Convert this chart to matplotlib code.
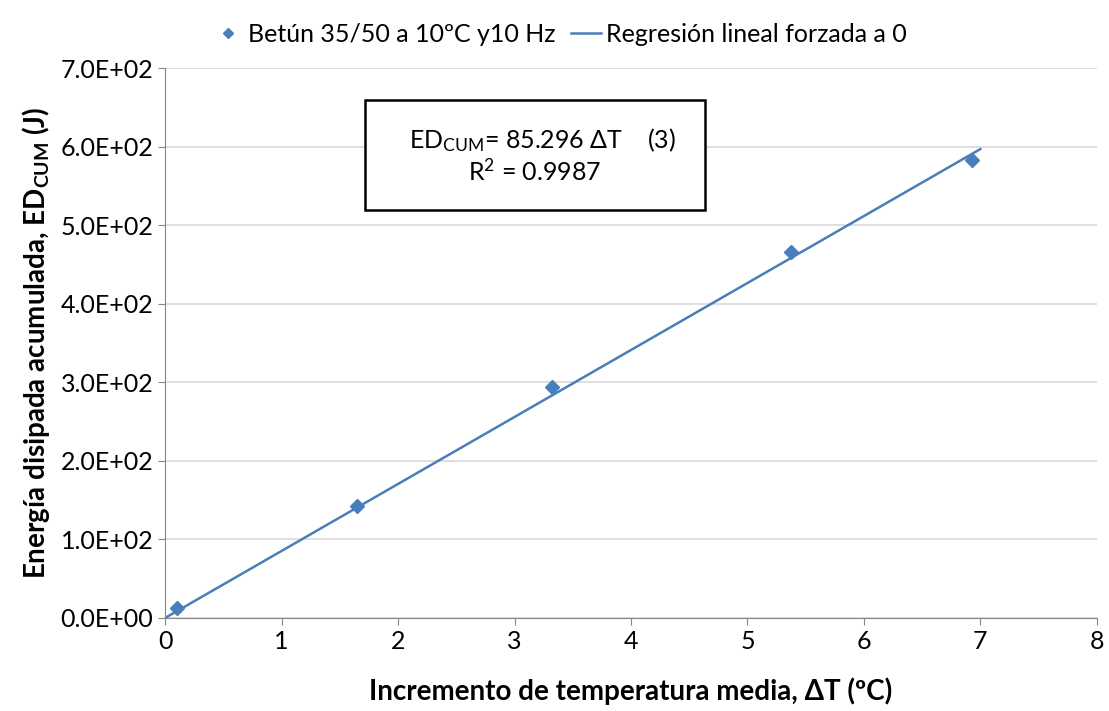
import matplotlib
matplotlib.use('Agg')
import numpy as np
import matplotlib.pyplot as plt
from matplotlib.patches import Rectangle

# Ensayo: betún 35/50, 10 ºC, 10 Hz
delta_t = [0.10, 1.65, 3.32, 5.37, 6.93]
ed_cum = [13.0, 142.5, 294.0, 465.5, 583.0]

# Regresión lineal forzada a 0
slope = 85.296
r2 = 0.9987
x_fit = np.array([0.0, 7.0])

x_ticks = [0, 1, 2, 3, 4, 5, 6, 7, 8]
y_ticks = [0, 100, 200, 300, 400, 500, 600, 700]

plt.rcParams['font.family'] = ['Lato', 'DejaVu Sans']
plt.rcParams['mathtext.fontset'] = 'custom'
plt.rcParams['mathtext.rm'] = 'Lato'
plt.rcParams['mathtext.bf'] = 'Lato:bold'
plt.rcParams['mathtext.it'] = 'Lato:italic'

blue = '#4a7ebb'
grey = '#868686'

fig = plt.figure(figsize=(11.09, 7.11), dpi=100)
ax = fig.add_axes([0.149, 0.131, 0.840, 0.773])

ax.plot(delta_t, ed_cum, linestyle='none', marker='D', markersize=7,
        color=blue, label='Betún 35/50 a 10ºC y10 Hz', zorder=3)
ax.plot(x_fit, slope * x_fit, color=blue, linewidth=1.8,
        label='Regresión lineal forzada a 0', zorder=2)

ax.set_xlim(0, 8)
ax.set_ylim(0, 700)
ax.set_xticks(x_ticks)
ax.set_yticks(y_ticks)
ax.set_yticklabels(['{:.1E}'.format(v) for v in y_ticks])
ax.tick_params(labelsize=18, colors=grey, labelcolor='black', length=5)

ax.yaxis.grid(True, color='#d9d9d9', linewidth=1.2)
ax.set_axisbelow(True)
for side in ['top', 'right']:
    ax.spines[side].set_visible(False)
for side in ['left', 'bottom']:
    ax.spines[side].set_color(grey)

ax.set_xlabel('Incremento de temperatura media, ΔT (ºC)', fontsize=20,
              fontweight='bold', labelpad=18)
ax.set_ylabel(r'Energía disipada acumulada, ED$_{\mathbf{CUM}}$ (J)',
              fontsize=20, fontweight='bold', labelpad=6)

# Caja con la ecuación
box = Rectangle((0.2146, 0.742), 0.365, 0.200, transform=ax.transAxes,
                facecolor='white', edgecolor='black', linewidth=1.8, zorder=4)
ax.add_patch(box)
ax.text(0.405, 0.869, r'ED$_{\mathrm{CUM}}$= ' + '{:.3f} ΔT    (3)'.format(slope),
        transform=ax.transAxes, ha='center', va='center', fontsize=18, zorder=5)
ax.text(0.397, 0.812, r'R$^{\mathrm{2}}$ = ' + '{:.4f}'.format(r2),
        transform=ax.transAxes, ha='center', va='center', fontsize=18, zorder=5)

fig.legend(loc='upper center', bbox_to_anchor=(0.505, 1.0), ncol=2,
           frameon=False, fontsize=18, handlelength=1.2, handletextpad=0.2,
           columnspacing=0.6, markerscale=0.7)

fig.savefig('out.png', dpi=100)
